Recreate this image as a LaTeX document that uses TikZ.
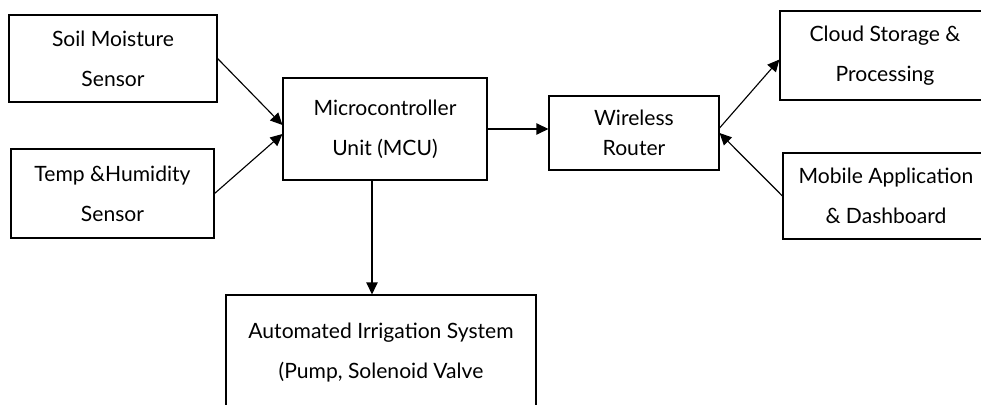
\documentclass[tikz,border=0pt]{standalone}
\usepackage{fontspec}
\setmainfont{Lato}
\usepackage{tikz}
\usetikzlibrary{arrows.meta,positioning,calc}
\def\px{0.025cm}

\begin{document}
\begin{tikzpicture}[x=\px,y=-\px,
    blockbox/.style={draw,line width=0.8pt,rectangle,align=center,
      inner sep=0pt,font=\fontsize{15}{28.5}\selectfont},
    arr/.style={line width=0.8pt,-{Triangle[length=8.5pt,width=8pt]}}]
  \useasboundingbox (0,0) rectangle (981,405);
  % sensors
  \node[blockbox,minimum width=208*\px,minimum height=87*\px]
    (soil) at (113,58.5) {Soil Moisture\\Sensor};
  \node[blockbox,minimum width=203*\px,minimum height=89*\px]
    (temp) at (112.5,193.5) {Temp \&Humidity\\Sensor};
  % controller and router
  \node[blockbox,minimum width=204*\px,minimum height=102*\px]
    (mcu) at (385,129) {Microcontroller\\Unit (MCU)};
  \node[blockbox,minimum width=170*\px,minimum height=74*\px,
    font=\fontsize{15}{21.3}\selectfont]
    (router) at (634,133) {Wireless\\Router};
  % cloud side, cut at the right edge
  \node[blockbox,minimum width=210*\px,minimum height=89*\px]
    (cloud) at (885,55.5) {Cloud Storage \&\\Processing};
  \node[blockbox,minimum width=206*\px,minimum height=86*\px]
    (mobile) at (886,196) {Mobile Application\\\& Dashboard};
  % actuator, cut at the bottom edge
  \node[blockbox,minimum width=310*\px,minimum height=115*\px]
    (irrig) at (381,352.5) {Automated Irrigation System\\(Pump, Solenoid Valve};
  % connectors
  \draw[arr] (soil.east) -- ($(mcu.west)+(0,-4)$);
  \draw[arr] (temp.east) -- ($(mcu.west)+(0,5)$);
  \draw[arr] (mcu.east) -- (mcu.east -| router.west);
  \draw[arr] ($(router.east)+(0,-5)$) -- ($(cloud.west)+(0,4)$);
  \draw[arr] (mobile.west) -- (router.east);
  \coordinate (drop) at ($(mcu.south)+(-13,0)$);
  \draw[arr] (drop) -- (drop |- irrig.north);
\end{tikzpicture}
\end{document}
